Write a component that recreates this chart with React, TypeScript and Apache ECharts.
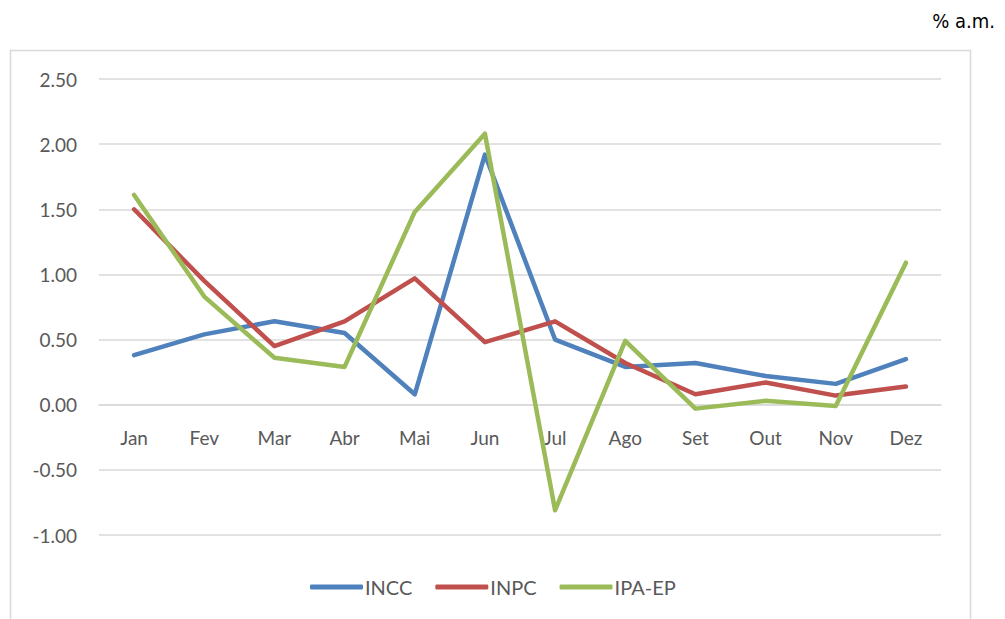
import React, { useEffect, useRef } from "react";
import * as echarts from "echarts";

const months = ["Jan", "Fev", "Mar", "Abr", "Mai", "Jun", "Jul", "Ago", "Set", "Out", "Nov", "Dez"];
const incc = [0.38, 0.54, 0.64, 0.55, 0.08, 1.92, 0.5, 0.29, 0.32, 0.22, 0.16, 0.35];
const inpc = [1.5, 0.95, 0.45, 0.64, 0.97, 0.48, 0.64, 0.32, 0.08, 0.17, 0.07, 0.14];
const ipaep = [1.61, 0.83, 0.36, 0.29, 1.48, 2.08, -0.81, 0.49, -0.03, 0.03, -0.01, 1.09];
const seriesNames = ["INCC", "INPC", "IPA-EP"];
const colors = ["#4F81BD", "#C0504D", "#9BBB59"];

const FONT = "Lato, 'Liberation Sans', sans-serif";
const Y_MIN = -1;
const Y_MAX = 2.5;
const GRID_TOP = 79;
const GRID_BOTTOM = 84;
const CHART_H = 619;

export default function App() {
  const ref = useRef<HTMLDivElement>(null);
  useEffect(() => {
    if (!ref.current) return;
    const chart = echarts.init(ref.current, null, { renderer: "svg" });
    const data = [incc, inpc, ipaep];
    const gridH = CHART_H - GRID_TOP - GRID_BOTTOM;
    const zeroOffset = -(gridH * (0 - Y_MIN)) / (Y_MAX - Y_MIN);
    chart.setOption({
      animation: false,
      backgroundColor: "#ffffff",
      textStyle: { fontFamily: FONT },
      graphic: [
        {
          type: "rect",
          shape: { x: 10.5, y: 50.5, width: 960, height: 620 },
          style: { fill: "none", stroke: "#d9d9d9", lineWidth: 1.5 },
          z: 0,
        },
        {
          type: "text",
          right: 10,
          top: 11,
          style: { text: "% a.m.", fontSize: 20, fill: "#000000", fontFamily: "'DejaVu Sans Condensed', 'Liberation Sans Narrow', sans-serif" },
        },
      ],
      grid: { left: 99, right: 64, top: GRID_TOP, bottom: GRID_BOTTOM, containLabel: false },
      legend: {
        data: seriesNames,
        bottom: 17,
        left: 305,
        itemWidth: 53,
        itemHeight: 5,
        itemGap: 23,
        icon: "roundRect",
        textStyle: { fontSize: 20, color: "#595959", fontFamily: FONT, padding: [0, 0, 0, -3] },
      },
      xAxis: {
        type: "category",
        data: months,
        boundaryGap: true,
        offset: zeroOffset,
        axisLine: { show: true, onZero: false, lineStyle: { color: "#d9d9d9", width: 1.5 } },
        axisTick: { show: false },
        axisLabel: { fontSize: 19, color: "#595959", margin: 23, fontFamily: FONT },
      },
      yAxis: {
        type: "value",
        min: Y_MIN,
        max: Y_MAX,
        interval: 0.5,
        axisLine: { show: false },
        axisTick: { show: false },
        splitLine: { lineStyle: { color: "#d9d9d9", width: 1.5 } },
        axisLabel: {
          fontSize: 19,
          color: "#595959",
          margin: 22,
          fontFamily: FONT,
          formatter: (v: number) => v.toFixed(2),
        },
      },
      series: data.map((d, i) => ({
        name: seriesNames[i],
        type: "line",
        data: d,
        symbol: "none",
        color: colors[i],
        lineStyle: { width: 4.5, color: colors[i], cap: "round", join: "round" },
      })),
    });
    return () => chart.dispose();
  }, []);
  return (
    <div
      ref={ref}
      style={{ position: "absolute", left: 0, top: 0, width: 1005, height: 619 }}
    />
  );
}
